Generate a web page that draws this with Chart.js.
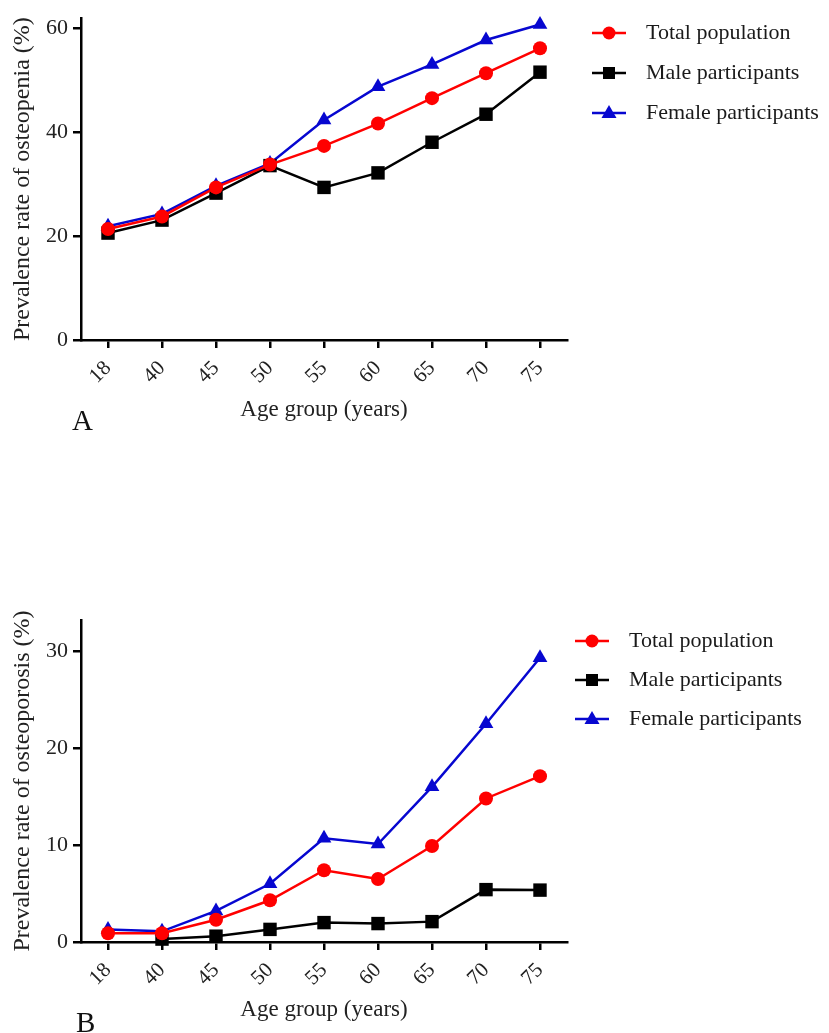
<!DOCTYPE html>
<html>
<head>
<meta charset="utf-8">
<script src="https://cdn.jsdelivr.net/npm/chart.js@4/dist/chart.umd.min.js"></script>
<style>
    body { margin: 0; background: #fff; width: 829px; height: 1033px; position: relative; overflow: hidden; }
    canvas { position: absolute; left: 0; }
    #chartA { top: 0; }
    #chartB { top: 600px; }
    .panel { position: absolute; font-family: "Liberation Serif", serif; font-size: 29px; line-height: 1; color: #111; }
</style>
</head>
<body>
<canvas id="chartA" width="829" height="440"></canvas>
<canvas id="chartB" width="829" height="440"></canvas>
<div class="panel" style="left:72px; top:406px;">A</div>
<div class="panel" style="left:76px; top:1008px;">B</div>
<script>
// age groups on the x axis
const ageGroups = ['18', '40', '45', '50', '55', '60', '65', '70', '75'];

// panel A, osteopenia (%)
const osteopeniaTicks = [0, 20, 40, 60];
const osteopeniaTotal = [21.4, 23.8, 29.4, 33.8, 37.4, 41.7, 46.6, 51.4, 56.2];
const osteopeniaMale = [20.6, 23.1, 28.3, 33.6, 29.4, 32.2, 38.1, 43.5, 51.6];
const osteopeniaFemale = [21.9, 24.3, 29.7, 34.0, 42.4, 48.8, 53.1, 57.8, 60.8];

// panel B, osteoporosis (%)
const osteoporosisTicks = [0, 10, 20, 30];
const osteoporosisTotal = [0.9, 0.9, 2.3, 4.3, 7.4, 6.5, 9.9, 14.8, 17.1];
const osteoporosisMale = [null, 0.3, 0.6, 1.3, 2.0, 1.9, 2.1, 5.4, 5.35];
const osteoporosisFemale = [1.3, 1.1, 3.2, 6.0, 10.7, 10.1, 16.0, 22.5, 29.3];

const seriesLabels = ['Total population', 'Male participants', 'Female participants'];

const FONT = '"Liberation Serif", "Times New Roman", serif';
const RED = '#ff0000';
const BLACK = '#000000';
const BLUE = '#0707d0';

function makeDatasets(total, male, female) {
    return [
        { label: seriesLabels[0], data: total, borderColor: RED, backgroundColor: RED, pointStyle: 'circle', pointRadius: 7 },
        { label: seriesLabels[1], data: male, borderColor: BLACK, backgroundColor: BLACK, pointStyle: 'rect', pointRadius: 9.5 },
        { label: seriesLabels[2], data: female, borderColor: BLUE, backgroundColor: BLUE, pointStyle: 'triangle', pointRadius: 8.5 }
    ].map((ds) => {
        ds.borderWidth = 2.5
        ds.pointBorderWidth = 0
        ds.pointHoverRadius = ds.pointRadius
        ds.tension = 0
        ds.clip = false
        ds.spanGaps = false
        return ds
    })
}

// legend drawn as line + marker + text, like the original figure
const lineLegend = {
    id: 'lineLegend',
    afterDraw(chart, args, opts) {
        const ctx = chart.ctx
        ctx.save()
        chart.data.datasets.forEach((ds, i) => {
            const y = opts.y + i * opts.gap
            const x0 = opts.x
            const x1 = opts.x + 34
            const xc = (x0 + x1) / 2
            ctx.strokeStyle = ds.borderColor
            ctx.fillStyle = ds.backgroundColor
            ctx.lineWidth = 2.5
            ctx.beginPath()
            ctx.moveTo(x0, y)
            ctx.lineTo(x1, y)
            ctx.stroke()
            ctx.beginPath()
            if (ds.pointStyle === 'circle') {
                ctx.arc(xc, y, 6.5, 0, Math.PI * 2)
            } else if (ds.pointStyle === 'rect') {
                ctx.rect(xc - 6, y - 6, 12, 12)
            } else {
                ctx.moveTo(xc, y - 8)
                ctx.lineTo(xc + 7.5, y + 5)
                ctx.lineTo(xc - 7.5, y + 5)
                ctx.closePath()
            }
            ctx.fill()
            ctx.fillStyle = '#1a1a1a'
            ctx.font = '22px ' + FONT
            ctx.textBaseline = 'middle'
            ctx.textAlign = 'left'
            ctx.fillText(ds.label, opts.x + 54, y)
        })
        ctx.restore()
    }
}

function makeChart(canvasId, datasets, yTitle, yTicks, yMax, plotTop, plotBottom, legend) {
    const canvas = document.getElementById(canvasId)
    return new Chart(canvas.getContext('2d'), {
        type: 'line',
        data: { labels: ageGroups, datasets: datasets },
        options: {
            responsive: false,
            animation: false,
            devicePixelRatio: 1,
            layout: { padding: { top: plotTop, right: 262, left: 0, bottom: 0 } },
            plugins: {
                legend: { display: false },
                tooltip: { enabled: false },
                lineLegend: legend
            },
            scales: {
                x: {
                    offset: true,
                    afterFit: (scale) => { scale.height = canvas.height - plotBottom },
                    grid: { drawOnChartArea: false, drawTicks: true, tickLength: 8, color: BLACK, lineWidth: 2.5, offset: false },
                    border: { display: true, color: BLACK, width: 2.5 },
                    ticks: { font: { family: FONT, size: 21 }, color: '#222', minRotation: 45, maxRotation: 45, padding: 8 },
                    title: { display: true, text: 'Age group (years)', font: { family: FONT, size: 23 }, color: '#222', padding: { top: 0, bottom: 16 } }
                },
                y: {
                    min: 0,
                    max: yMax,
                    afterFit: (scale) => { scale.width = 81 },
                    afterBuildTicks: (axis) => {
                        axis.ticks = yTicks.map((v) => ({ value: v }))
                    },
                    grid: { drawOnChartArea: false, drawTicks: true, tickLength: 8, color: BLACK, lineWidth: 2.5 },
                    border: { display: true, color: BLACK, width: 2.5 },
                    ticks: { font: { family: FONT, size: 22 }, color: '#222', padding: 5 },
                    title: { display: true, text: yTitle, font: { family: FONT, size: 24 }, color: '#222', padding: { top: 8, bottom: 0 } }
                }
            }
        },
        plugins: [lineLegend]
    })
}

makeChart('chartA',
    makeDatasets(osteopeniaTotal, osteopeniaMale, osteopeniaFemale),
    'Prevalence rate of osteopenia (%)', osteopeniaTicks, 62, 15, 340,
    { x: 592, y: 33, gap: 40 })

makeChart('chartB',
    makeDatasets(osteoporosisTotal, osteoporosisMale, osteoporosisFemale),
    'Prevalence rate of osteoporosis (%)', osteoporosisTicks, 33.2, 20, 342,
    { x: 575, y: 41, gap: 39 })
</script>
</body>
</html>
